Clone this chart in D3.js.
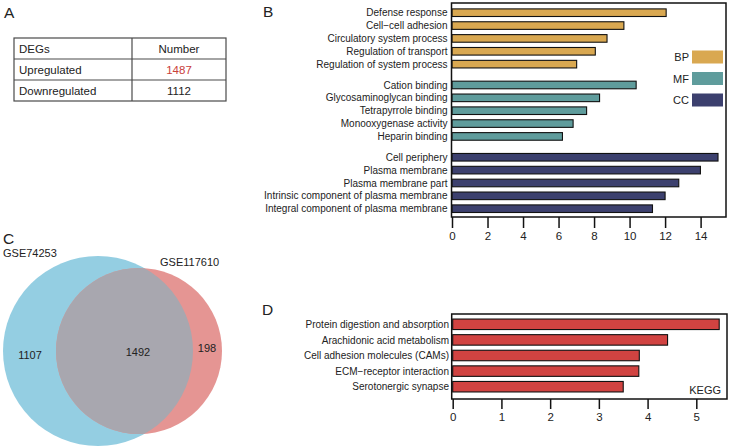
<!DOCTYPE html>
<html><head><meta charset="utf-8">
<script src="https://cdn.jsdelivr.net/npm/d3@7"></script>
<style>
body{margin:0;background:#fff}
text{font-family:"Liberation Sans",Arial,Helvetica,sans-serif;fill:#222}
</style>
</head><body>
<svg id="c" width="729" height="448"></svg>
<script>
// ---------- DATA ----------
const degHeader = ["DEGs", "Number"];
const degCategories = ["Upregulated", "Downregulated"];
const degNumbers = [1487, 1112];

const goGroups = ["BP", "MF", "CC"];
const bpTerms = ["Defense response", "Cell\u2212cell adhesion", "Circulatory system process", "Regulation of transport", "Regulation of system process"];
const bpValues = [12.06, 9.68, 8.73, 8.07, 7.02];
const mfTerms = ["Cation binding", "Glycosaminoglycan binding", "Tetrapyrrole binding", "Monooxygenase activity", "Heparin binding"];
const mfValues = [10.37, 8.31, 7.58, 6.82, 6.22];
const ccTerms = ["Cell periphery", "Plasma membrane", "Plasma membrane part", "Intrinsic component of plasma membrane", "Integral component of plasma membrane"];
const ccValues = [14.98, 13.99, 12.77, 12.0, 11.29];
const goTicks = [0, 2, 4, 6, 8, 10, 12, 14];

const vennSets = ["GSE74253", "GSE117610"];
const vennCounts = [1107, 1492, 198]; // only-left, both, only-right

const keggTerms = ["Protein digestion and absorption", "Arachidonic acid metabolism", "Cell adhesion molecules (CAMs)", "ECM\u2212receptor interaction", "Serotonergic synapse"];
const keggValues = [5.47, 4.41, 3.83, 3.82, 3.50];
const keggTicks = [0, 1, 2, 3, 4, 5];

// ---------- STYLE ----------
const groupColor = {BP: "#D9A851", MF: "#5F9C9C", CC: "#3C406E"};
const keggColor = "#D14341";

const svg = d3.select("#c");

// ---------- Panel letters ----------
[["A",4,18],["B",263,17],["C",3,244],["D",262,315]].forEach(([t,x,y]) =>
  svg.append("text").attr("x",x).attr("y",y).attr("font-size",15.5).text(t));

// ---------- Panel A: table ----------
(function(){
  const g = svg.append("g");
  const x0 = 14, x1 = 132, x2 = 226;
  const rows = [degHeader].concat(degCategories.map((c,i)=>[c, String(degNumbers[i])]));
  const ys = d3.scaleLinear().domain([0, rows.length]).range([38, 101]);
  g.append("rect").attr("x",x0).attr("y",ys(0)).attr("width",x2-x0).attr("height",ys(rows.length)-ys(0))
    .attr("fill","none").attr("stroke","#4a4a4a").attr("stroke-width",1.2);
  d3.range(1, rows.length).forEach(i => g.append("line").attr("x1",x0).attr("x2",x2).attr("y1",ys(i)).attr("y2",ys(i))
    .attr("stroke","#4a4a4a").attr("stroke-width",1.2));
  g.append("line").attr("x1",x1).attr("x2",x1).attr("y1",ys(0)).attr("y2",ys(rows.length)).attr("stroke","#4a4a4a").attr("stroke-width",1.2);
  rows.forEach((r,i) => {
    const yb = (ys(i)+ys(i+1))/2 + 4;
    g.append("text").attr("x",x0+5).attr("y",yb).attr("font-size",11.5).text(r[0]);
    g.append("text").attr("x",(x1+x2)/2).attr("y",yb).attr("font-size",11.5).attr("text-anchor","middle")
      .style("fill", i===1 ? "#C9403A" : "#222").text(r[1]);
  });
})();

// ---------- Panel B: GO bars ----------
(function(){
  const g = svg.append("g");
  const data = [];
  [[bpTerms,bpValues],[mfTerms,mfValues],[ccTerms,ccValues]].forEach(([terms,vals],gi) => {
    terms.forEach((t,i) => data.push({term:t, value:vals[i], group:goGroups[gi], pos: gi*5 + i + gi*0.62}));
  });
  const x = d3.scaleLinear().domain([0, 15.43]).range([452, 726]);
  const y = d3.scaleLinear().domain([0, 14 + 2*0.62]).range([12.7, 208.7]);
  const bh = 7.6;
  g.selectAll("rect.bar").data(data).join("rect").attr("class","bar")
    .attr("x", x(0)).attr("y", d => y(d.pos) - bh/2)
    .attr("width", d => x(d.value) - x(0)).attr("height", bh)
    .attr("fill", d => groupColor[d.group]).attr("stroke","#111").attr("stroke-width",1.1);
  g.selectAll("text.lab").data(data).join("text").attr("class","lab")
    .attr("x", 447.5).attr("y", d => y(d.pos) + 3.6).attr("text-anchor","end").attr("font-size",10).text(d => d.term);
  g.append("rect").attr("x", x(0)-0.5).attr("y",3).attr("width", 726 - x(0) + 0.5).attr("height", 214)
    .attr("fill","none").attr("stroke","#111").attr("stroke-width",1.5);
  // legend
  const ly = d3.scalePoint().domain(goGroups).range([57, 100]);
  goGroups.forEach(gr => {
    g.append("rect").attr("x",692).attr("y",ly(gr)-6.5).attr("width",31).attr("height",13).attr("fill",groupColor[gr]);
    g.append("text").attr("x",689).attr("y",ly(gr)+4).attr("text-anchor","end").attr("font-size",11).text(gr);
  });
  const ax = g.append("g").attr("transform","translate(0,217)")
    .call(d3.axisBottom(x).tickValues(goTicks).tickFormat(d3.format("d")).tickSize(11).tickPadding(4));
  ax.select(".domain").remove();
  ax.selectAll(".tick line").attr("stroke","#111").attr("stroke-width",1.5);
  ax.selectAll(".tick text").attr("font-size",11.5).style("font-family",'"Liberation Sans",Arial,sans-serif').style("fill","#222");
})();

// ---------- Panel C: Venn ----------
(function(){
  const g = svg.append("g");
  const circles = [{name:vennSets[0], cx:98, cy:351, r:95, color:"#94CEE2"},
                   {name:vennSets[1], cx:139, cy:351, r:83, color:"#E59593"}];
  const defs = svg.append("defs");
  defs.append("clipPath").attr("id","clipA").append("circle")
    .attr("cx",circles[0].cx).attr("cy",circles[0].cy).attr("r",circles[0].r);
  g.selectAll("circle.set").data(circles).join("circle").attr("class","set")
    .attr("cx",d=>d.cx).attr("cy",d=>d.cy).attr("r",d=>d.r).attr("fill",d=>d.color);
  g.append("circle").attr("cx",circles[1].cx).attr("cy",circles[1].cy).attr("r",circles[1].r)
    .attr("fill","#A8A7AF").attr("clip-path","url(#clipA)");
  g.append("text").attr("x",3).attr("y",257).attr("font-size",11).text(vennSets[0]);
  g.append("text").attr("x",160).attr("y",266).attr("font-size",11).text(vennSets[1]);
  const pos = [[30,359],[138,356],[207,352]];
  vennCounts.forEach((v,i) => g.append("text").attr("x",pos[i][0]).attr("y",pos[i][1])
    .attr("text-anchor","middle").attr("font-size",11).text(v));
})();

// ---------- Panel D: KEGG ----------
(function(){
  const g = svg.append("g");
  const x = d3.scaleLinear().domain([0, 5.63]).range([452.7, 727]);
  const y = d3.scalePoint().domain(keggTerms).range([324.3, 386.7]);
  const bh = 10.5;
  g.selectAll("rect.bar").data(keggTerms).join("rect").attr("class","bar")
    .attr("x", x(0)).attr("y", d => y(d) - bh/2)
    .attr("width", (d,i) => x(keggValues[i]) - x(0)).attr("height", bh)
    .attr("fill", keggColor).attr("stroke","#111").attr("stroke-width",1.1);
  g.selectAll("text.lab").data(keggTerms).join("text").attr("class","lab")
    .attr("x", 449).attr("y", d => y(d) + 3.6).attr("text-anchor","end").attr("font-size",10).text(d => d);
  g.append("rect").attr("x", x(0)-1).attr("y",314).attr("width", 727 - x(0) + 1).attr("height", 85)
    .attr("fill","none").attr("stroke","#111").attr("stroke-width",1.5);
  g.append("text").attr("x",721).attr("y",394).attr("text-anchor","end").attr("font-size",11).text("KEGG");
  const ax = g.append("g").attr("transform","translate(0,399)")
    .call(d3.axisBottom(x).tickValues(keggTicks).tickFormat(d3.format("d")).tickSize(10).tickPadding(4));
  ax.select(".domain").remove();
  ax.selectAll(".tick line").attr("stroke","#111").attr("stroke-width",1.5);
  ax.selectAll(".tick text").attr("font-size",11.5).style("font-family",'"Liberation Sans",Arial,sans-serif').style("fill","#222");
})();
</script>
</body></html>
